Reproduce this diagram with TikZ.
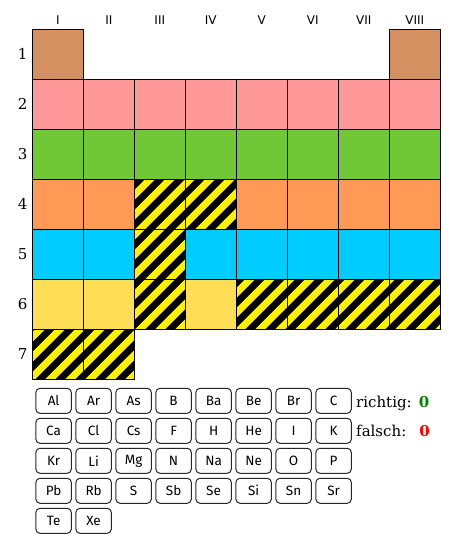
\documentclass[tikz,border=0pt]{standalone}
\usepackage{fontspec}
\setmainfont{DejaVu Serif}
\newfontfamily\elfont{Fira Sans}
\newfontfamily\grpfont{DejaVu Sans}
\usetikzlibrary{positioning}
\definecolor{colone}{RGB}{212,144,96}
\definecolor{coltwo}{RGB}{255,153,153}
\definecolor{colthree}{RGB}{113,200,55}
\definecolor{colfour}{RGB}{255,153,85}
\definecolor{colfive}{RGB}{0,204,255}
\definecolor{colsix}{RGB}{255,221,85}
\definecolor{okgreen}{RGB}{0,136,0}
\tikzset{
  cell/.style={draw, line width=1pt, minimum width=51pt, minimum height=50pt,
    inner sep=0pt, anchor=north west},
  per1/.style={cell, fill=colone},
  per2/.style={cell, fill=coltwo},
  per3/.style={cell, fill=colthree},
  per4/.style={cell, fill=colfour},
  per5/.style={cell, fill=colfive},
  per6/.style={cell, fill=colsix},
  % stripes keep one phase over the whole table
  hatch/.style={cell, fill=black, path picture={
      \pgfmathsetmacro\off{mod(mod(-2.8-51*\c-50*\r,20)+20,20)}
      \foreach \k in {-3,...,3}
        \draw[yellow, line width=7pt]
          (20*\k+\off-60,60) -- (20*\k+\off+60,-60);
    }},
  grp/.style={font=\grpfont\fontsize{12}{14}\selectfont},
  num/.style={font=\fontsize{15}{18}\selectfont},
  elem/.style={draw=black!85, line width=1pt, rounded corners=4pt,
    minimum width=35.3pt, minimum height=25pt, inner sep=0pt,
    font=\elfont\fontsize{13.5}{16}\selectfont},
  score/.style={font=\bfseries\fontsize{15}{18}\selectfont, anchor=base},
}
\begin{document}
\begin{tikzpicture}[x=1pt, y=-1pt]
  \useasboundingbox (0,0) rectangle (461,553);
  % group headings
  \foreach \g [count=\c] in {I,II,III,IV,V,VI,VII,VIII}
  {
    \node[grp] (grp-\c) at (57.8+51*\c-51, 20) {\g};
  }
  % periods
  \foreach \r in {1,...,7}
  {
    \node[num] (per-\r) at (22.7, 50*\r+4.3) {\r};
  }
  % table cells
  \foreach \r/\cells in {
    1/{1/per1,8/per1},
    2/{1/per2,2/per2,3/per2,4/per2,5/per2,6/per2,7/per2,8/per2},
    3/{1/per3,2/per3,3/per3,4/per3,5/per3,6/per3,7/per3,8/per3},
    4/{1/per4,2/per4,3/hatch,4/hatch,5/per4,6/per4,7/per4,8/per4},
    5/{1/per5,2/per5,3/hatch,4/per5,5/per5,6/per5,7/per5,8/per5},
    6/{1/per6,2/per6,3/hatch,4/per6,5/hatch,6/hatch,7/hatch,8/hatch},
    7/{1/hatch,2/hatch}}
  {
    \foreach \c/\s in \cells
    {
      \node[\s] (cell-\r-\c) at (32.3+51*\c-51, 29.3+50*\r-50) {};
    }
  }
  % element buttons
  \foreach \e [count=\i from 0] in {Al,Ar,As,B,Ba,Be,Br,C,
      Ca,Cl,Cs,F,H,He,I,K,Kr,Li,Mg,N,Na,Ne,O,P,
      Pb,Rb,S,Sb,Se,Si,Sn,Sr,Te,Xe}
  {
    \pgfmathtruncatemacro\row{\i/8}
    \pgfmathtruncatemacro\col{mod(\i,8)}
    \node[elem] (el-\e) at (53.6+40*\col, 400.8+30*\row) {\e};
  }
  % score
  \node[num, anchor=base west, inner sep=0pt] (richtig) at (356,407) {richtig:};
  \node[num, anchor=base west, inner sep=0pt] (falsch) at (356,436.5) {falsch:};
  \node[score, text=okgreen, inner sep=0pt] (ok) at (424,407) {0};
  \node[score, text=red, inner sep=0pt] (bad) at (424.5,436.5) {0};
\end{tikzpicture}
\end{document}
